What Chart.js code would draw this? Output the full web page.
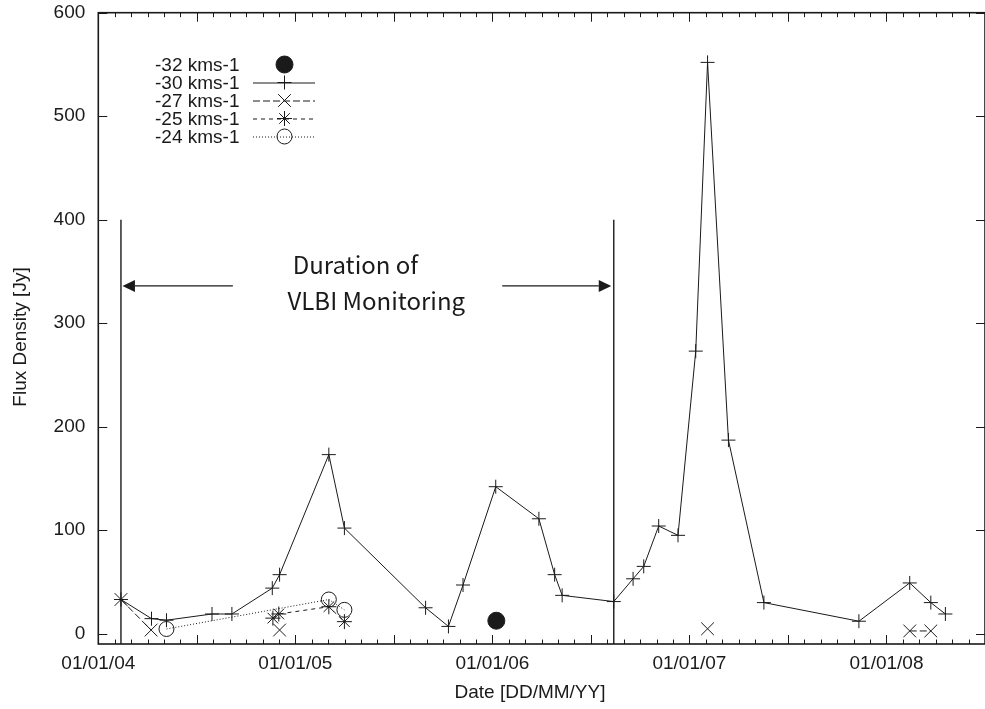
<!DOCTYPE html>
<html><head><meta charset="utf-8">
<script src="https://cdn.jsdelivr.net/npm/chart.js@4.4.0/dist/chart.umd.min.js"></script>
<style>
html,body{margin:0;padding:0;background:#fff;overflow:hidden;width:985px;height:709px}
#wrap{position:absolute;left:0;top:0;width:985px;height:709px;overflow:hidden}
</style>
</head><body><div id="wrap"><canvas id="c" width="985" height="709"></canvas></div>
<script>
// ---------- data (x = decimal year, y = flux density in Jy) ----------
const seriesLabels = ['-32 kms-1', '-30 kms-1', '-27 kms-1', '-25 kms-1', '-24 kms-1'];

const dates32 = [2006.020];
const flux32  = [12.5];

const dates30 = [2004.115, 2004.270, 2004.346, 2004.577, 2004.678, 2004.883, 2004.920, 2005.170, 2005.249,
                 2005.661, 2005.777, 2005.851, 2006.017, 2006.236, 2006.316, 2006.354, 2006.616, 2006.714,
                 2006.768, 2006.844, 2006.942, 2007.032, 2007.092, 2007.198, 2007.378, 2007.860, 2008.118,
                 2008.225, 2008.299];
const flux30  = [33, 14.5, 13, 19, 19, 44, 57, 173, 102,
                 25, 7, 47, 142, 111, 57, 37, 31, 53,
                 65, 104, 95, 273, 552, 187, 30, 12, 49,
                 30, 19];

// null = break in the dashed line
const dates27 = [2004.115, 2004.268, null, 2004.920, null, 2007.092, null, 2008.118, 2008.225];
const flux27  = [33, 3.5, null, 3.5, null, 4.7, null, 2.6, 2.6];

const dates25 = [2004.886, 2004.916, 2005.170, 2005.249];
const flux25  = [15, 19, 26, 11.6];

const dates24 = [2004.346, 2005.170, 2005.249];
const flux24  = [4.5, 33, 23];

const xTickYears  = [2004, 2005, 2006, 2007, 2008];
const xTickLabels = ['01/01/04', '01/01/05', '01/01/06', '01/01/07', '01/01/08'];
const yTickValues = [0, 100, 200, 300, 400, 500, 600];
const xMin = 2004.0, xMax = 2008.5, yMin = -10, yMax = 600;

// VLBI monitoring annotation
const vlbiStart = 2004.115, vlbiEnd = 2006.616, vlbiTop = 400, arrowLevel = 336;
const arrowTailLeft = 2004.683, arrowTailRight = 2006.050;
const noteLines = ['Duration of', 'VLBI Monitoring'];
const noteX = [2005.305, 2005.411];
const noteY = [347.5, 312.5];

const xTitle = 'Date [DD/MM/YY]';
const yTitle = 'Flux Density [Jy]';

// ---------- helpers ----------
const INK = '#1a1a1a';
const FONT = '"Liberation Sans", Arial, Helvetica, sans-serif';

function pts(xs, ys) {
  return xs.map((x, i) => {
    if (ys[i] === null) {
      return { x: (xs[i - 1] + xs[i + 1]) / 2, y: null };
    }
    return { x: x, y: ys[i] };
  });
}

const datasets = [
  { label: seriesLabels[0], data: pts(dates32, flux32), showLine: false,
    pointStyle: 'circle', pointRadius: 8.5, pointBackgroundColor: INK, pointBorderColor: INK, borderColor: INK },
  { label: seriesLabels[1], data: pts(dates30, flux30), showLine: true, borderDash: [],
    pointStyle: 'cross', pointRadius: 7, pointBorderColor: INK, borderColor: INK },
  { label: seriesLabels[2], data: pts(dates27, flux27), showLine: true, borderDash: [7, 3],
    pointStyle: 'crossRot', pointRadius: 9, pointBorderColor: INK, borderColor: INK },
  { label: seriesLabels[3], data: pts(dates25, flux25), showLine: true, borderDash: [4, 4],
    pointStyle: 'star', pointRadius: 7.5, pointBorderColor: INK, borderColor: INK },
  { label: seriesLabels[4], data: pts(dates24, flux24), showLine: true, borderDash: [1, 2],
    pointStyle: 'circle', pointRadius: 7.5, pointBackgroundColor: 'rgba(0,0,0,0)', pointBorderColor: INK, borderColor: INK }
];

function seg(ctx, x1, y1, x2, y2) { ctx.beginPath(); ctx.moveTo(x1, y1); ctx.lineTo(x2, y2); ctx.stroke(); }

function arrow(ctx, xTail, xTip, y) {
  const dir = xTip > xTail ? 1 : -1;
  const L = 12.5, H = 6;
  seg(ctx, xTail, y, xTip - dir * L, y);
  ctx.beginPath();
  ctx.moveTo(xTip, y);
  ctx.lineTo(xTip - dir * L, y - H);
  ctx.lineTo(xTip - dir * L, y + H);
  ctx.closePath();
  ctx.fill();
}

const decorPlugin = {
  id: 'decor',
  afterDraw(chart) {
    const ctx = chart.ctx, xs = chart.scales.x, ys = chart.scales.y, a = chart.chartArea;
    ctx.save();
    ctx.strokeStyle = INK; ctx.fillStyle = INK;

    // inward tick marks (monthly minor, half-year major) on bottom and top
    ctx.lineWidth = 1;
    const nMonths = Math.round((xs.max - xs.min) * 12);
    for (let m = 0; m <= nMonths; m++) {
      const px = Math.round(xs.getPixelForValue(xs.min + m / 12)) + 0.5;
      const len = (m % 6 === 0) ? 9 : 4.5;
      seg(ctx, px, a.bottom, px, a.bottom - len);
      seg(ctx, px, a.top, px, a.top + len);
    }
    for (const v of yTickValues) {
      const py = Math.round(ys.getPixelForValue(v)) + 0.5;
      seg(ctx, a.left, py, a.left + 9, py);
      seg(ctx, a.right, py, a.right - 9, py);
    }
    // frame
    ctx.lineWidth = 1.6;
    ctx.strokeRect(a.left, a.top, a.right - a.left, a.bottom - a.top);

    // VLBI lines and arrows
    ctx.lineWidth = 1.4;
    const yTop = ys.getPixelForValue(vlbiTop);
    const xl = xs.getPixelForValue(vlbiStart), xr = xs.getPixelForValue(vlbiEnd);
    seg(ctx, xl, yTop, xl, a.bottom);
    seg(ctx, xr, yTop, xr, a.bottom);
    ctx.lineWidth = 1.3;
    const ya = ys.getPixelForValue(arrowLevel);
    arrow(ctx, xs.getPixelForValue(arrowTailLeft), xl + 1.5, ya);
    arrow(ctx, xs.getPixelForValue(arrowTailRight), xr - 2.5, ya);

    ctx.font = '24px "Noto Sans CJK JP", "Noto Sans", sans-serif';
    ctx.textAlign = 'center'; ctx.textBaseline = 'alphabetic';
    noteLines.forEach((t, i) => ctx.fillText(t, xs.getPixelForValue(noteX[i]), ys.getPixelForValue(noteY[i])));

    // legend (gnuplot style: text right-aligned, then sample)
    ctx.font = '19px ' + FONT;
    chart.data.datasets.forEach((ds, i) => {
      const y = 64.5 + 18 * i;
      ctx.fillStyle = INK;
      ctx.textAlign = 'right'; ctx.textBaseline = 'middle';
      ctx.fillText(ds.label, 239.5, y + 1);
      if (ds.showLine) {
        ctx.save();
        ctx.lineWidth = 1;
        ctx.setLineDash(ds.borderDash || []);
        seg(ctx, 253, y + 0.5, 315, y + 0.5);
        ctx.restore();
      }
      ctx.fillStyle = ds.pointBackgroundColor || 'rgba(0,0,0,0)';
      ctx.strokeStyle = INK;
      ctx.lineWidth = 1;
      Chart.helpers.drawPoint(ctx, { pointStyle: ds.pointStyle, radius: ds.pointRadius, rotation: 0, borderWidth: 1 }, 284.5, y);
    });

    // axis titles
    ctx.fillStyle = INK;
    ctx.font = '19px ' + FONT;
    ctx.textAlign = 'center'; ctx.textBaseline = 'middle';
    ctx.fillText(xTitle, 530, 693);
    ctx.save();
    ctx.translate(21, 337);
    ctx.rotate(-Math.PI / 2);
    ctx.fillText(yTitle, 0, 0);
    ctx.restore();

    ctx.restore();
  }
};

new Chart(document.getElementById('c'), {
  type: 'line',
  data: { datasets: datasets },
  plugins: [decorPlugin],
  options: {
    responsive: false,
    animation: false,
    devicePixelRatio: 1,
    layout: { autoPadding: false, padding: { left: 0, top: 12.7, right: -2, bottom: 0 } },
    plugins: { legend: { display: false }, tooltip: { enabled: false }, title: { display: false } },
    elements: {
      line: { tension: 0, borderWidth: 1, fill: false },
      point: { borderWidth: 1, hoverRadius: 0 }
    },
    spanGaps: false,
    scales: {
      x: {
        type: 'linear', min: xMin, max: xMax,
        grid: { display: false, drawTicks: false }, border: { display: false },
        afterBuildTicks: s => { s.ticks = xTickYears.map(v => ({ value: v })); },
        afterFit: s => { s.height = 65; s.paddingLeft = 0; s.paddingRight = 0; },
        ticks: {
          autoSkip: false, maxRotation: 0, minRotation: 0, padding: 8,
          font: { family: FONT, size: 19 }, color: INK,
          callback: v => { const i = xTickYears.indexOf(v); return i >= 0 ? xTickLabels[i] : ''; }
        }
      },
      y: {
        type: 'linear', min: yMin, max: yMax,
        grid: { display: false, drawTicks: false }, border: { display: false },
        afterBuildTicks: s => { s.ticks = yTickValues.map(v => ({ value: v })); },
        afterFit: s => { s.width = 98.3; s.paddingTop = 0; s.paddingBottom = 0; },
        ticks: { padding: 13, font: { family: FONT, size: 19 }, color: INK }
      }
    }
  }
});
</script>
</body></html>
